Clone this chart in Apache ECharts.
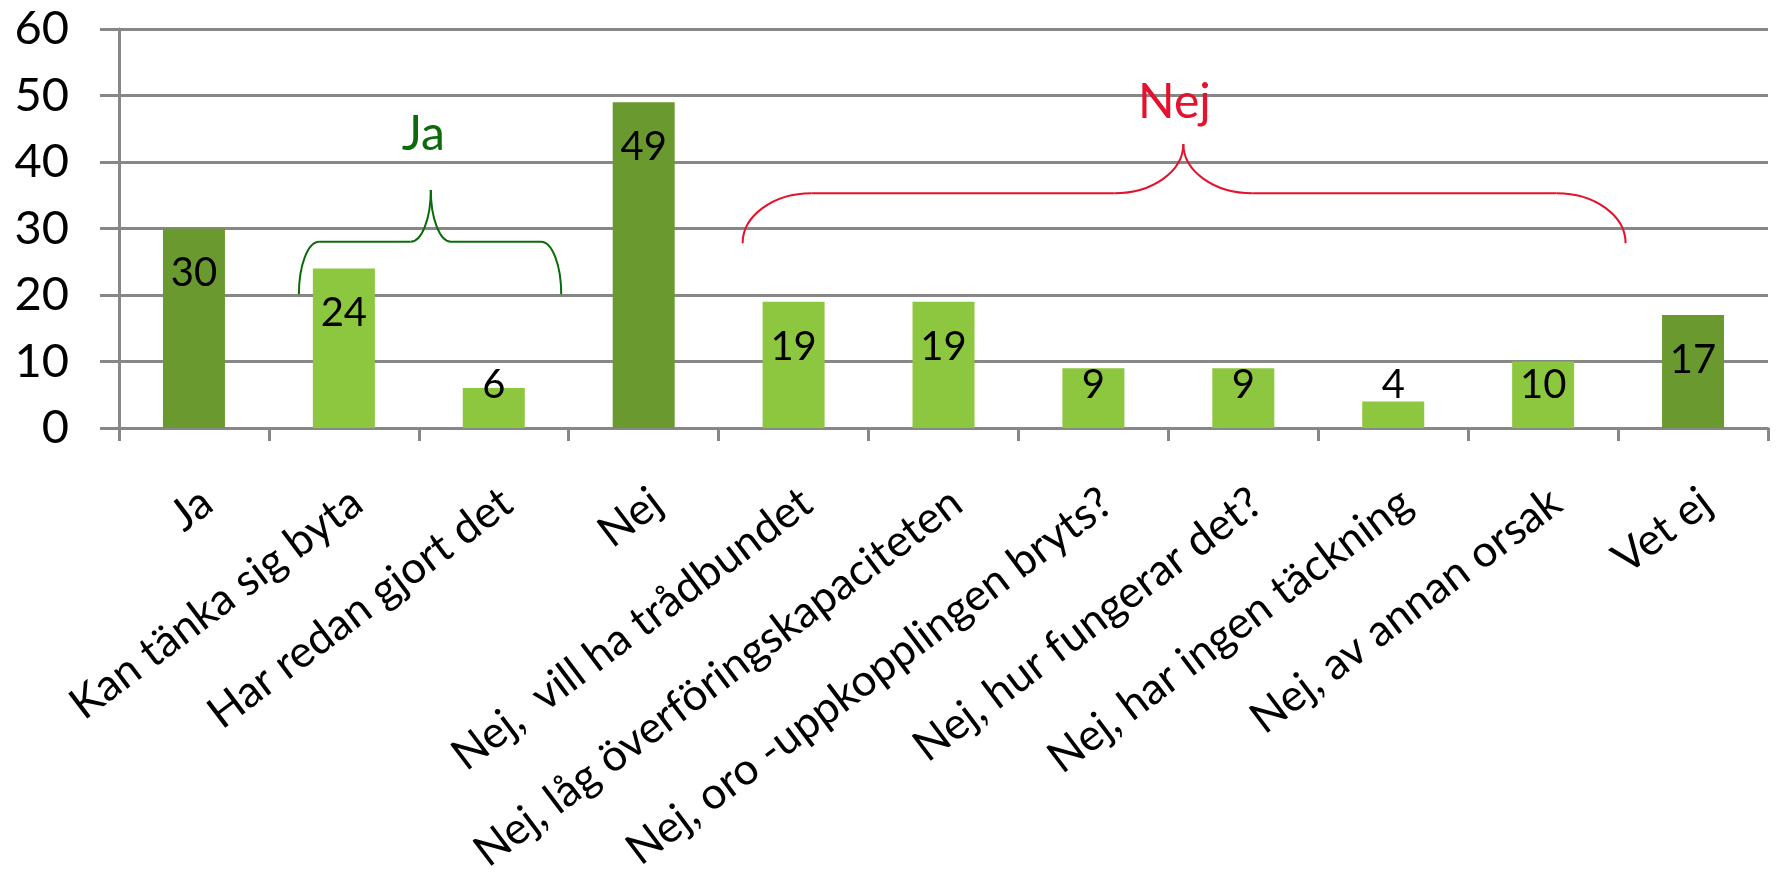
<!DOCTYPE html>
<html>
<head>
<meta charset="utf-8">
<script src="https://cdn.jsdelivr.net/npm/echarts@6/dist/echarts.min.js"></script>
<style>
html,body{margin:0;padding:0;background:#ffffff;}
#chart{width:1778px;height:874px;}
</style>
</head>
<body>
<div id="chart"></div>
<script>
// ---- data ----
const categories = [
  'Ja',
  'Kan tänka sig byta',
  'Har redan gjort det',
  'Nej',
  'Nej,  vill ha trådbundet',
  'Nej, låg överföringskapaciteten',
  'Nej, oro -uppkopplingen bryts?',
  'Nej, hur fungerar det?',
  'Nej, har ingen täckning',
  'Nej, av annan orsak',
  'Vet ej'
];
const values = [30, 24, 6, 49, 19, 19, 9, 9, 4, 10, 17];
const mainCategories = ['Ja', 'Nej', 'Vet ej'];
const yTicks = [0, 10, 20, 30, 40, 50, 60];

// group annotations (braces): text, and anchors in data space
const groupTexts = ['Ja', 'Nej'];
const groupTextPos = [[1.53, 44.2], [6.54, 49.0]];          // [category index, value]
const braceSpan = [[0.70, 2.45, 1.58], [3.66, 9.55, 6.60]];   // [left, right, peak] category index
const braceLevels = [[20.1, 28.0, 35.8], [27.8, 35.3, 42.7]]; // [ends, bar, peak] value
const braceCorner = [0.135, 0.46];                           // corner width in category units

// ---- styles ----
const DARK = '#6a992f', LIGHT = '#8dc63f', GRID = '#878787';
const groupColors = ['#0b6b0b', '#e4122c'];
const FONT = 'Lato';

const chart = echarts.init(document.getElementById('chart'));

const seriesData = values.map((v, i) => {
  const item = {
    value: v,
    itemStyle: { color: mainCategories.includes(categories[i]) ? DARK : LIGHT }
  };
  if (v < 13) {
    item.label = { position: 'insideBottom', distance: 22 };
  }
  return item;
});

chart.setOption({
  animation: false,
  backgroundColor: '#ffffff',
  grid: { left: 119, right: 10, top: 29, bottom: 446, outerBoundsMode: 'none', containLabel: false },
  xAxis: {
    type: 'category',
    data: categories,
    boundaryGap: true,
    axisLine: { show: true, lineStyle: { color: GRID, width: 3 } },
    axisTick: { show: true, alignWithLabel: false, length: 13, lineStyle: { color: GRID, width: 3 } },
    axisLabel: {
      interval: 0,
      rotate: 37,
      align: 'right',
      verticalAlign: 'top',
      margin: 52,
      color: '#000000',
      fontFamily: FONT,
      fontSize: 44
    },
    splitLine: { show: false }
  },
  yAxis: {
    type: 'value',
    min: yTicks[0],
    max: yTicks[yTicks.length - 1],
    interval: yTicks[1] - yTicks[0],
    axisLine: { show: true, lineStyle: { color: GRID, width: 3 } },
    axisTick: { show: true, length: 19, lineStyle: { color: GRID, width: 3 } },
    axisLabel: { margin: 50, color: '#000000', fontFamily: FONT, fontSize: 47 },
    splitLine: { show: true, lineStyle: { color: GRID, width: 3 } }
  },
  series: [{
    type: 'bar',
    data: seriesData,
    barWidth: 62,
    label: {
      show: true,
      position: 'insideTop',
      distance: 24,
      color: '#000000',
      fontFamily: FONT,
      fontSize: 40,
      lineHeight: 42
    }
  }]
});

function xPix(idx) {
  const p0 = chart.convertToPixel({ xAxisIndex: 0 }, 0);
  const p1 = chart.convertToPixel({ xAxisIndex: 0 }, 1);
  return p0 + (p1 - p0) * idx;
}
function yPix(v) {
  return chart.convertToPixel({ yAxisIndex: 0 }, v);
}
const K = 0.5523;
function curve(x1, y1, c1x, c1y, c2x, c2y, x2, y2, color) {
  return {
    type: 'bezierCurve', silent: true,
    shape: { x1: x1, y1: y1, cpx1: c1x, cpy1: c1y, cpx2: c2x, cpy2: c2y, x2: x2, y2: y2 },
    style: { fill: null, stroke: color, lineWidth: 2 }
  };
}
function seg(x1, y1, x2, y2, color) {
  return {
    type: 'line', silent: true,
    shape: { x1: x1, y1: y1, x2: x2, y2: y2 },
    style: { stroke: color, lineWidth: 2 }
  };
}
function braceElements(xl, xr, xp, yb, yh, yp, rx, color) {
  const ry1 = yb - yh, ry2 = yh - yp;
  return [
    curve(xl, yb, xl, yb - K * ry1, xl + rx - K * rx, yh, xl + rx, yh, color),
    seg(xl + rx, yh, xp - rx, yh, color),
    curve(xp - rx, yh, xp - rx + K * rx, yh, xp, yp + K * ry2, xp, yp, color),
    curve(xp, yp, xp, yp + K * ry2, xp + rx - K * rx, yh, xp + rx, yh, color),
    seg(xp + rx, yh, xr - rx, yh, color),
    curve(xr - rx, yh, xr - rx + K * rx, yh, xr, yb - K * ry1, xr, yb, color)
  ];
}

const unitX = xPix(1) - xPix(0);
let graphics = [];
groupTexts.forEach((t, g) => {
  const [l, r, p] = braceSpan[g];
  const [yb, yh, yp] = braceLevels[g];
  graphics = graphics.concat(braceElements(
    xPix(l), xPix(r), xPix(p), yPix(yb), yPix(yh), yPix(yp), braceCorner[g] * unitX, groupColors[g]));
  graphics.push({
    type: 'text',
    silent: true,
    x: xPix(groupTextPos[g][0]),
    y: yPix(groupTextPos[g][1]),
    style: {
      text: t,
      fill: groupColors[g],
      fontFamily: FONT,
      fontSize: 48,
      align: 'center',
      verticalAlign: 'middle'
    }
  });
});
chart.setOption({ graphic: { elements: graphics } });
</script>
</body>
</html>
